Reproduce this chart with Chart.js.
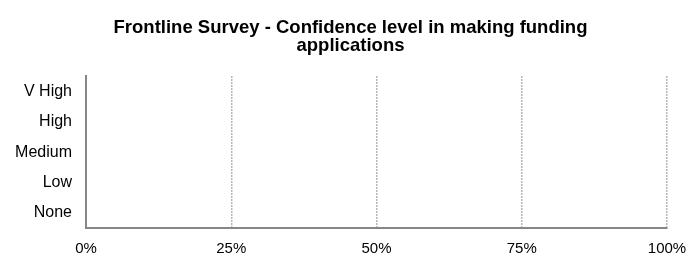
<!DOCTYPE html>
<html>
<head>
<meta charset="utf-8">
<script src="https://cdn.jsdelivr.net/npm/chart.js@4"></script>
<style>
  html, body { margin: 0; padding: 0; background: #fff; }
  #wrap { width: 692px; height: 256px; position: relative; }
</style>
</head>
<body>
<div id="wrap"><canvas id="c" width="692" height="256"></canvas></div>
<script>
const titleLines = ["Frontline Survey - Confidence level in making funding", "applications"];
const categories = ["V High", "High", "Medium", "Low", "None"];
const responses = [0, 0, 0, 0, 0];
const xTicks = [0, 25, 50, 75, 100];

const FONT = "'Liberation Sans', Arial, sans-serif";

new Chart(document.getElementById('c'), {
  type: 'bar',
  data: {
    labels: categories,
    datasets: [{
      label: 'Responses',
      data: responses,
      backgroundColor: '#4f81bd',
      borderWidth: 0
    }]
  },
  options: {
    indexAxis: 'y',
    responsive: false,
    animation: false,
    layout: { padding: { left: 0, right: 25, top: 0, bottom: 0 } },
    plugins: {
      legend: { display: false },
      tooltip: { enabled: false },
      title: {
        display: true,
        text: titleLines,
        color: '#000',
        font: { family: FONT, size: 18.5, weight: 'bold', lineHeight: 0.98 },
        padding: { top: 19, bottom: 21 }
      }
    },
    scales: {
      x: {
        min: 0,
        max: 100,
        afterBuildTicks: (s) => { s.ticks = xTicks.map(v => ({ value: v })); },
        afterFit: (s) => { s.height = 28; s.paddingLeft = 0; s.paddingRight = 0; },
        ticks: {
          color: '#000',
          font: { family: FONT, size: 15 },
          padding: 12,
          callback: (v) => v + '%'
        },
        grid: {
          drawTicks: false,
          color: (ctx) => ctx.tick && ctx.tick.value === 0 ? 'rgba(0,0,0,0)' : '#a0a0a0',
          lineWidth: 1.5
        },
        border: { display: true, color: '#868686', width: 2, dash: [1.5, 1.5] }
      },
      y: {
        afterFit: (s) => { s.width = 86; },
        ticks: {
          color: '#000',
          font: { family: FONT, size: 16 },
          padding: 14
        },
        grid: { display: false, drawTicks: false },
        border: { display: true, color: '#868686', width: 2 }
      }
    }
  },
  plugins: [{
    id: 'shiftTitle',
    afterLayout: (chart) => {
      const t = chart.titleBlock;
      if (t) { t.left += 17; t.right += 17; }
    }
  }]
});
</script>
</body>
</html>
